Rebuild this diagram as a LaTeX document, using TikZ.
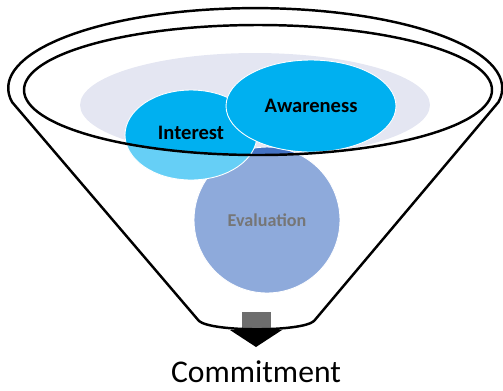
\documentclass[tikz,border=0pt]{standalone}
\usepackage{fontspec}
\setmainfont{Carlito}
\usetikzlibrary{shapes.geometric}

\definecolor{haze}{HTML}{E4E6F2}
\definecolor{sky}{HTML}{00B0F0}
\definecolor{steel}{HTML}{4472C4}
\definecolor{spout}{HTML}{6D6D6D}
\definecolor{evaltext}{HTML}{767676}

\begin{document}
\begin{tikzpicture}[
x=0.02cm, y=-0.02cm,
blob/.style={
    ellipse,
    draw=white,
    line width=0.5pt,
    inner sep=0pt
    },
lbl/.style={
    font=\bfseries\fontsize{11.7pt}{12pt}\selectfont,
    text=black
    },
rim/.style={
    line width=1.4pt,
    line join=round
    },
]
\useasboundingbox (0,0) rectangle (503,390);

% stages inside the funnel
\node[ellipse, fill=haze, inner sep=0pt, minimum width=7cm, minimum height=2.08cm] (haze) at (255,105) {};
\node[blob, fill=steel, minimum width=2.92cm, minimum height=2.92cm] (eval) at (267,220) {};
\node[blob, fill=sky, minimum width=2.64cm, minimum height=1.8cm] (inter) at (191,135) {};
\node[blob, fill=sky, minimum width=3.4cm, minimum height=1.84cm] (aware) at (311,106) {};

% glass effect below the inner rim
\fill[white, opacity=0.4, even odd rule] (0,0) rectangle (503,390)
    (258,90) ellipse [x radius=234, y radius=65];

\node[lbl] at (aware) {Awareness};
\node[lbl] at ([yshift=1pt]inter.center) {Interest};
\node[lbl, text=evaltext, font=\bfseries\fontsize{10.3pt}{11pt}\selectfont] at (eval) {Evaluation};

% spout
\fill[spout] (242,312) rectangle (271,332);
\fill (230,330) -- (282,330) -- (256,347) -- cycle;

% funnel outline
\draw[rim] (12,102) arc[start angle=170, end angle=370, x radius=247, y radius=80]
    -- (314,321) .. controls (302,332) and (212,332) .. (199,321) -- cycle;
\draw[rim] (258,90) ellipse [x radius=234, y radius=65];

\node[font=\fontsize{18pt}{20pt}\selectfont, inner sep=1pt] (commit) at (256,372) {Commitment};
\end{tikzpicture}
\end{document}
